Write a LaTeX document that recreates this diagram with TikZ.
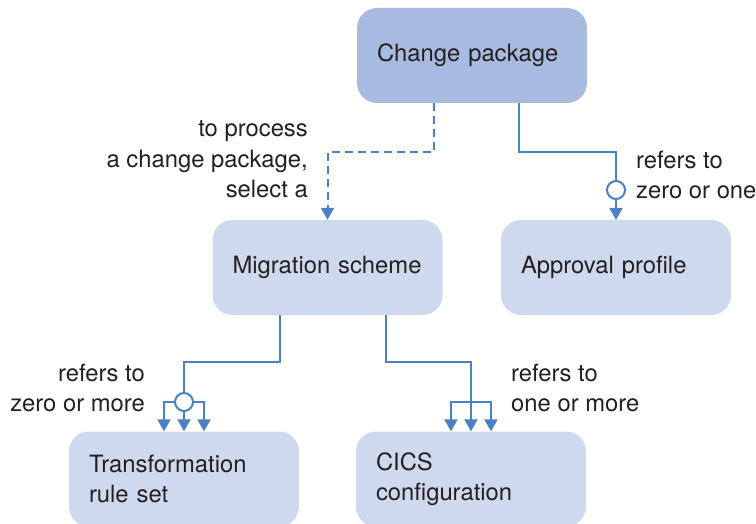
\documentclass[tikz,border=0pt]{standalone}
\usepackage{fontspec}
\setmainfont{TeX Gyre Heros}
\usetikzlibrary{arrows.meta,positioning}
\definecolor{boxdark}{HTML}{A7BBE0}
\definecolor{boxlight}{HTML}{CFD9EE}
\definecolor{lineblue}{HTML}{4A80C4}
\definecolor{txt}{HTML}{231F20}
\tikzset{
  box/.style={rounded corners=20pt, minimum width=230pt, minimum height=95pt,
    text width=190pt, inner xsep=20pt, align=left, text=txt,
    font=\fontsize{23.8pt}{30.5pt}\selectfont},
  lbl/.style={inner sep=0pt, text=txt, font=\fontsize{23.8pt}{30.5pt}\selectfont},
  conn/.style={draw=lineblue, line width=2pt},
  arr/.style={conn, -{Triangle[width=13pt,length=12pt]}},
  ring/.style={circle, draw=lineblue, line width=2pt, fill=white, minimum size=18pt, inner sep=0pt},
}
\begin{document}
\begin{tikzpicture}[x=1pt,y=-1pt]
\useasboundingbox (0,0) rectangle (756,524);
\node[box, fill=boxdark] (cp) at (472,55.5) {Change package};
\node[box, fill=boxlight] (ms) at (327.5,267.5) {Migration scheme};
\node[box, fill=boxlight] (ap) at (616,267.5) {Approval profile};
\node[box, fill=boxlight] (tr) at (184,479) {Transformation\\rule set};
\node[box, fill=boxlight] (ci) at (471,479) {CICS\\configuration};

% dashed: change package -> migration scheme
\draw[arr, dash pattern=on 8pt off 5pt] ([xshift=-38pt]cp.south) |- (380,152) -| (ms.north);
\node[lbl, align=right, anchor=east] (l1) at (308,159.5) {to process\\a change package,\\select a};

% change package -> approval profile
\node[ring] (c1) at (616,190) {};
\draw[conn] ([xshift=47pt]cp.south) |- (570,152) -| (c1.north);
\draw[arr] (c1.south) -- (ap.north);
\node[lbl, align=left, anchor=west] (l2) at (636,175) {refers to\\zero or one};

% migration scheme -> transformation rule set
\node[ring] (c2) at (184,402) {};
\draw[conn] ([xshift=-47.5pt]ms.south) |- (230,362) -| (c2.north);
\draw[arr] (c2.south) -- (tr.north);
\draw[arr] (c2.west) -| ([xshift=-20pt]tr.north);
\draw[arr] (c2.east) -| ([xshift=20pt]tr.north);
\node[lbl, align=right, anchor=east] (l3) at (145,388) {refers to\\zero or more};

% migration scheme -> CICS configuration
\coordinate (j) at (471,402);
\draw[conn] ([xshift=58.5pt]ms.south) |- (430,362) -| (j);
\draw[arr] (j) -- (ci.north);
\draw[arr] (j) -| ([xshift=-20pt]ci.north);
\draw[arr] (j) -| ([xshift=20pt]ci.north);
\node[lbl, align=left, anchor=west] (l4) at (511,388) {refers to\\one or more};
\end{tikzpicture}
\end{document}
